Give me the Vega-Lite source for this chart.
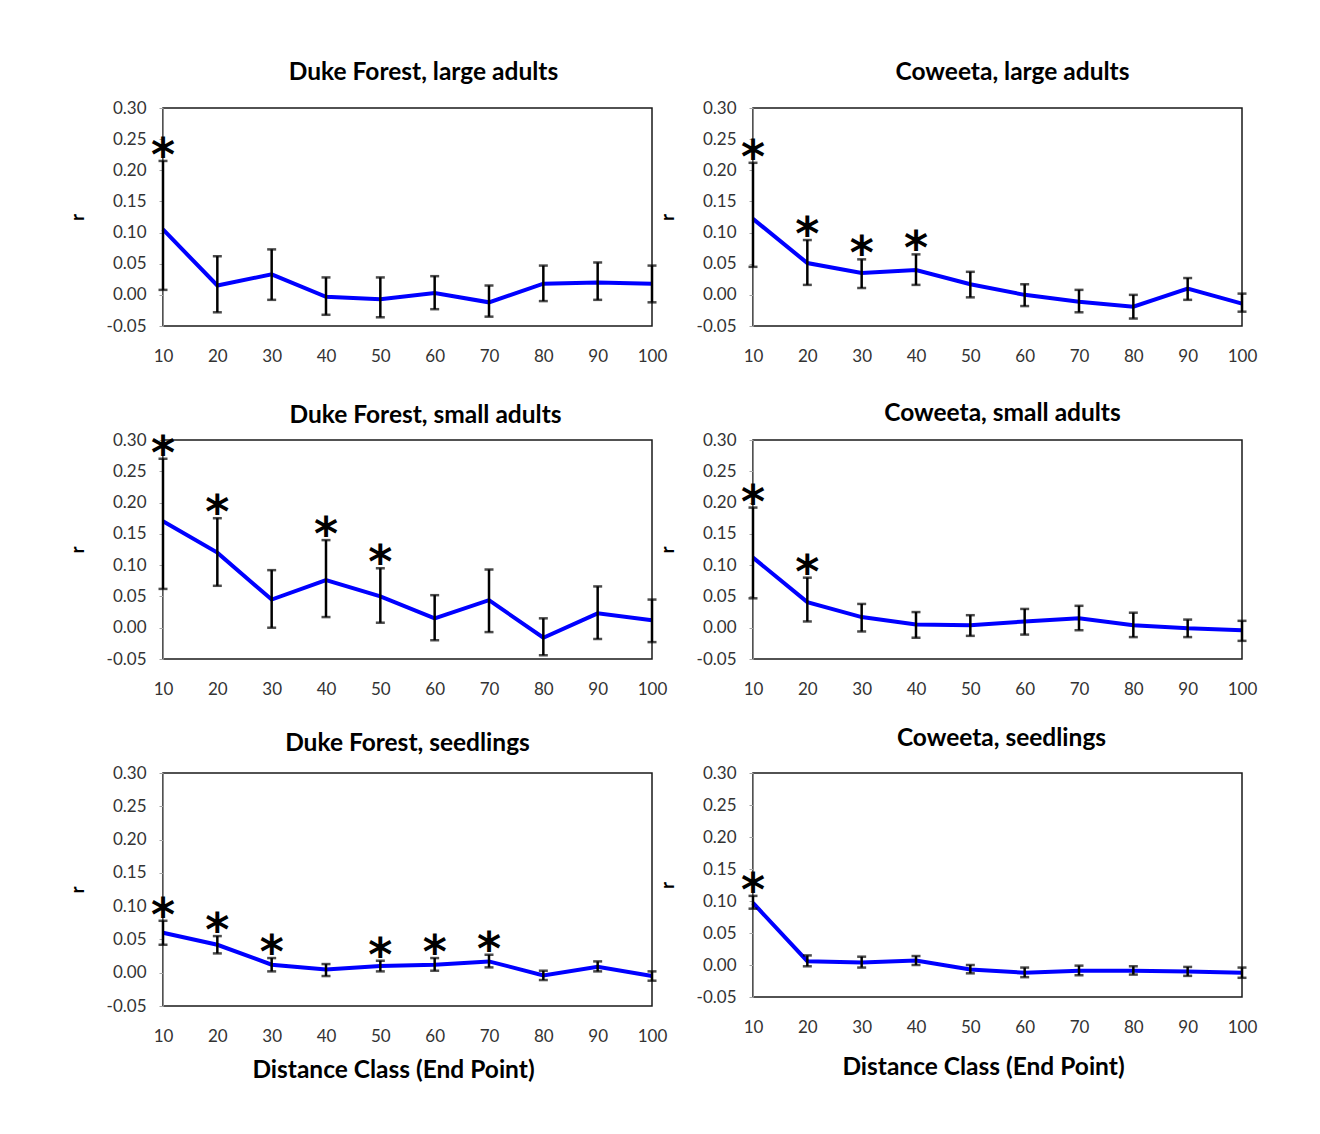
{
  "$schema": "https://vega.github.io/schema/vega-lite/v6.json",
  "background": "white",
  "padding": {"left": 67, "top": 58, "right": 10, "bottom": 10},
  "datasets": {
    "corr": [
      {"panel": "DL", "d": 10, "r": 0.105, "lo": 0.008, "hi": 0.215, "sig": true},
      {"panel": "DL", "d": 20, "r": 0.015, "lo": -0.028, "hi": 0.062, "sig": false},
      {"panel": "DL", "d": 30, "r": 0.033, "lo": -0.008, "hi": 0.073, "sig": false},
      {"panel": "DL", "d": 40, "r": -0.003, "lo": -0.032, "hi": 0.028, "sig": false},
      {"panel": "DL", "d": 50, "r": -0.007, "lo": -0.036, "hi": 0.028, "sig": false},
      {"panel": "DL", "d": 60, "r": 0.003, "lo": -0.023, "hi": 0.030, "sig": false},
      {"panel": "DL", "d": 70, "r": -0.012, "lo": -0.035, "hi": 0.015, "sig": false},
      {"panel": "DL", "d": 80, "r": 0.018, "lo": -0.010, "hi": 0.047, "sig": false},
      {"panel": "DL", "d": 90, "r": 0.020, "lo": -0.008, "hi": 0.052, "sig": false},
      {"panel": "DL", "d": 100, "r": 0.018, "lo": -0.012, "hi": 0.047, "sig": false},
      {"panel": "CL", "d": 10, "r": 0.122, "lo": 0.045, "hi": 0.212, "sig": true},
      {"panel": "CL", "d": 20, "r": 0.051, "lo": 0.016, "hi": 0.088, "sig": true},
      {"panel": "CL", "d": 30, "r": 0.035, "lo": 0.011, "hi": 0.057, "sig": true},
      {"panel": "CL", "d": 40, "r": 0.040, "lo": 0.016, "hi": 0.065, "sig": true},
      {"panel": "CL", "d": 50, "r": 0.017, "lo": -0.004, "hi": 0.037, "sig": false},
      {"panel": "CL", "d": 60, "r": 0.000, "lo": -0.018, "hi": 0.017, "sig": false},
      {"panel": "CL", "d": 70, "r": -0.011, "lo": -0.028, "hi": 0.008, "sig": false},
      {"panel": "CL", "d": 80, "r": -0.019, "lo": -0.038, "hi": 0.000, "sig": false},
      {"panel": "CL", "d": 90, "r": 0.010, "lo": -0.008, "hi": 0.027, "sig": false},
      {"panel": "CL", "d": 100, "r": -0.014, "lo": -0.027, "hi": 0.002, "sig": false},
      {"panel": "DS", "d": 10, "r": 0.170, "lo": 0.062, "hi": 0.270, "sig": true},
      {"panel": "DS", "d": 20, "r": 0.120, "lo": 0.067, "hi": 0.175, "sig": true},
      {"panel": "DS", "d": 30, "r": 0.045, "lo": 0.000, "hi": 0.092, "sig": false},
      {"panel": "DS", "d": 40, "r": 0.076, "lo": 0.017, "hi": 0.140, "sig": true},
      {"panel": "DS", "d": 50, "r": 0.050, "lo": 0.008, "hi": 0.095, "sig": true},
      {"panel": "DS", "d": 60, "r": 0.015, "lo": -0.020, "hi": 0.052, "sig": false},
      {"panel": "DS", "d": 70, "r": 0.044, "lo": -0.007, "hi": 0.093, "sig": false},
      {"panel": "DS", "d": 80, "r": -0.016, "lo": -0.044, "hi": 0.015, "sig": false},
      {"panel": "DS", "d": 90, "r": 0.023, "lo": -0.018, "hi": 0.066, "sig": false},
      {"panel": "DS", "d": 100, "r": 0.012, "lo": -0.023, "hi": 0.045, "sig": false},
      {"panel": "CS", "d": 10, "r": 0.112, "lo": 0.047, "hi": 0.192, "sig": true},
      {"panel": "CS", "d": 20, "r": 0.041, "lo": 0.010, "hi": 0.080, "sig": true},
      {"panel": "CS", "d": 30, "r": 0.017, "lo": -0.006, "hi": 0.038, "sig": false},
      {"panel": "CS", "d": 40, "r": 0.005, "lo": -0.016, "hi": 0.025, "sig": false},
      {"panel": "CS", "d": 50, "r": 0.004, "lo": -0.013, "hi": 0.020, "sig": false},
      {"panel": "CS", "d": 60, "r": 0.010, "lo": -0.011, "hi": 0.030, "sig": false},
      {"panel": "CS", "d": 70, "r": 0.015, "lo": -0.004, "hi": 0.035, "sig": false},
      {"panel": "CS", "d": 80, "r": 0.004, "lo": -0.015, "hi": 0.024, "sig": false},
      {"panel": "CS", "d": 90, "r": -0.001, "lo": -0.015, "hi": 0.013, "sig": false},
      {"panel": "CS", "d": 100, "r": -0.004, "lo": -0.021, "hi": 0.011, "sig": false},
      {"panel": "DD", "d": 10, "r": 0.060, "lo": 0.042, "hi": 0.078, "sig": true},
      {"panel": "DD", "d": 20, "r": 0.042, "lo": 0.029, "hi": 0.055, "sig": true},
      {"panel": "DD", "d": 30, "r": 0.012, "lo": 0.002, "hi": 0.022, "sig": true},
      {"panel": "DD", "d": 40, "r": 0.005, "lo": -0.005, "hi": 0.013, "sig": false},
      {"panel": "DD", "d": 50, "r": 0.010, "lo": 0.002, "hi": 0.018, "sig": true},
      {"panel": "DD", "d": 60, "r": 0.012, "lo": 0.003, "hi": 0.022, "sig": true},
      {"panel": "DD", "d": 70, "r": 0.017, "lo": 0.008, "hi": 0.027, "sig": true},
      {"panel": "DD", "d": 80, "r": -0.004, "lo": -0.011, "hi": 0.003, "sig": false},
      {"panel": "DD", "d": 90, "r": 0.009, "lo": 0.002, "hi": 0.017, "sig": false},
      {"panel": "DD", "d": 100, "r": -0.005, "lo": -0.012, "hi": 0.002, "sig": false},
      {"panel": "CD", "d": 10, "r": 0.097, "lo": 0.088, "hi": 0.108, "sig": true},
      {"panel": "CD", "d": 20, "r": 0.006, "lo": -0.002, "hi": 0.015, "sig": false},
      {"panel": "CD", "d": 30, "r": 0.004, "lo": -0.004, "hi": 0.013, "sig": false},
      {"panel": "CD", "d": 40, "r": 0.007, "lo": 0.000, "hi": 0.014, "sig": false},
      {"panel": "CD", "d": 50, "r": -0.007, "lo": -0.013, "hi": 0.000, "sig": false},
      {"panel": "CD", "d": 60, "r": -0.012, "lo": -0.019, "hi": -0.004, "sig": false},
      {"panel": "CD", "d": 70, "r": -0.009, "lo": -0.016, "hi": -0.001, "sig": false},
      {"panel": "CD", "d": 80, "r": -0.009, "lo": -0.015, "hi": -0.002, "sig": false},
      {"panel": "CD", "d": 90, "r": -0.010, "lo": -0.017, "hi": -0.003, "sig": false},
      {"panel": "CD", "d": 100, "r": -0.012, "lo": -0.020, "hi": -0.004, "sig": false}
    ]
  },
  "data": {"name": "corr"},
  "bounds": "flush",
  "columns": 2,
  "spacing": {"row": 114, "column": 101},
  "concat": [
    {
      "width": 489, "height": 218,
      "title": {"text": "Duke Forest, large adults", "dx": 16, "offset": 14},
      "transform": [{"filter": "datum.panel === 'DL'"}],
      "encoding": {"x": {"field": "d", "type": "quantitative", "title": null, "scale": {"domain": [10, 100], "nice": false, "zero": false}, "axis": {"values": [10, 20, 30, 40, 50, 60, 70, 80, 90, 100], "tickCount": 20}}},
      "layer": [
        {"mark": {"type": "rule", "color": "#a6a6a6", "strokeWidth": 1}, "encoding": {"y": {"datum": 0, "type": "quantitative", "title": "r", "scale": {"domain": [-0.05, 0.3], "nice": false, "zero": false}, "axis": {"values": [-0.05, 0, 0.05, 0.1, 0.15, 0.2, 0.25, 0.3], "tickCount": 20}}}},
        {"mark": {"type": "line", "color": "#0000ff", "strokeWidth": 4}, "encoding": {"y": {"field": "r", "type": "quantitative", "title": "r"}}},
        {"mark": {"type": "errorbar", "ticks": true, "color": "black", "thickness": 2.5, "size": 9}, "encoding": {"y": {"field": "lo", "type": "quantitative", "title": "r"}, "y2": {"field": "hi"}}},
        {"transform": [{"filter": "datum.sig"}], "mark": {"type": "text", "text": "*", "font": "DejaVu Sans", "fontWeight": "bold", "fontSize": 46, "baseline": "alphabetic", "dy": 10}, "encoding": {"y": {"field": "hi", "type": "quantitative", "title": "r"}}}
      ]
    },
    {
      "width": 489, "height": 218,
      "title": {"text": "Coweeta, large adults", "dx": 15, "offset": 14},
      "transform": [{"filter": "datum.panel === 'CL'"}],
      "encoding": {"x": {"field": "d", "type": "quantitative", "title": null, "scale": {"domain": [10, 100], "nice": false, "zero": false}, "axis": {"values": [10, 20, 30, 40, 50, 60, 70, 80, 90, 100], "tickCount": 20}}},
      "layer": [
        {"mark": {"type": "rule", "color": "#a6a6a6", "strokeWidth": 1}, "encoding": {"y": {"datum": 0, "type": "quantitative", "title": "r", "scale": {"domain": [-0.05, 0.3], "nice": false, "zero": false}, "axis": {"values": [-0.05, 0, 0.05, 0.1, 0.15, 0.2, 0.25, 0.3], "tickCount": 20}}}},
        {"mark": {"type": "line", "color": "#0000ff", "strokeWidth": 4}, "encoding": {"y": {"field": "r", "type": "quantitative", "title": "r"}}},
        {"mark": {"type": "errorbar", "ticks": true, "color": "black", "thickness": 2.5, "size": 9}, "encoding": {"y": {"field": "lo", "type": "quantitative", "title": "r"}, "y2": {"field": "hi"}}},
        {"transform": [{"filter": "datum.sig"}], "mark": {"type": "text", "text": "*", "font": "DejaVu Sans", "fontWeight": "bold", "fontSize": 46, "baseline": "alphabetic", "dy": 10}, "encoding": {"y": {"field": "hi", "type": "quantitative", "title": "r"}}}
      ]
    },
    {
      "width": 489, "height": 219,
      "title": {"text": "Duke Forest, small adults", "dx": 18, "offset": 3},
      "transform": [{"filter": "datum.panel === 'DS'"}],
      "encoding": {"x": {"field": "d", "type": "quantitative", "title": null, "scale": {"domain": [10, 100], "nice": false, "zero": false}, "axis": {"values": [10, 20, 30, 40, 50, 60, 70, 80, 90, 100], "tickCount": 20}}},
      "layer": [
        {"mark": {"type": "rule", "color": "#a6a6a6", "strokeWidth": 1}, "encoding": {"y": {"datum": 0, "type": "quantitative", "title": "r", "scale": {"domain": [-0.05, 0.3], "nice": false, "zero": false}, "axis": {"values": [-0.05, 0, 0.05, 0.1, 0.15, 0.2, 0.25, 0.3], "tickCount": 20}}}},
        {"mark": {"type": "line", "color": "#0000ff", "strokeWidth": 4}, "encoding": {"y": {"field": "r", "type": "quantitative", "title": "r"}}},
        {"mark": {"type": "errorbar", "ticks": true, "color": "black", "thickness": 2.5, "size": 9}, "encoding": {"y": {"field": "lo", "type": "quantitative", "title": "r"}, "y2": {"field": "hi"}}},
        {"transform": [{"filter": "datum.sig"}], "mark": {"type": "text", "text": "*", "font": "DejaVu Sans", "fontWeight": "bold", "fontSize": 46, "baseline": "alphabetic", "dy": 10}, "encoding": {"y": {"field": "hi", "type": "quantitative", "title": "r"}}}
      ]
    },
    {
      "width": 489, "height": 219,
      "title": {"text": "Coweeta, small adults", "dx": 5, "offset": 5},
      "transform": [{"filter": "datum.panel === 'CS'"}],
      "encoding": {"x": {"field": "d", "type": "quantitative", "title": null, "scale": {"domain": [10, 100], "nice": false, "zero": false}, "axis": {"values": [10, 20, 30, 40, 50, 60, 70, 80, 90, 100], "tickCount": 20}}},
      "layer": [
        {"mark": {"type": "rule", "color": "#a6a6a6", "strokeWidth": 1}, "encoding": {"y": {"datum": 0, "type": "quantitative", "title": "r", "scale": {"domain": [-0.05, 0.3], "nice": false, "zero": false}, "axis": {"values": [-0.05, 0, 0.05, 0.1, 0.15, 0.2, 0.25, 0.3], "tickCount": 20}}}},
        {"mark": {"type": "line", "color": "#0000ff", "strokeWidth": 4}, "encoding": {"y": {"field": "r", "type": "quantitative", "title": "r"}}},
        {"mark": {"type": "errorbar", "ticks": true, "color": "black", "thickness": 2.5, "size": 9}, "encoding": {"y": {"field": "lo", "type": "quantitative", "title": "r"}, "y2": {"field": "hi"}}},
        {"transform": [{"filter": "datum.sig"}], "mark": {"type": "text", "text": "*", "font": "DejaVu Sans", "fontWeight": "bold", "fontSize": 46, "baseline": "alphabetic", "dy": 10}, "encoding": {"y": {"field": "hi", "type": "quantitative", "title": "r"}}}
      ]
    },
    {
      "width": 489, "height": 233,
      "title": {"text": "Duke Forest, seedlings", "dx": 0, "offset": 8},
      "transform": [{"filter": "datum.panel === 'DD'"}],
      "encoding": {"x": {"field": "d", "type": "quantitative", "title": "Distance Class (End Point)", "scale": {"domain": [10, 100], "nice": false, "zero": false}, "axis": {"values": [10, 20, 30, 40, 50, 60, 70, 80, 90, 100], "tickCount": 20}}},
      "layer": [
        {"mark": {"type": "rule", "color": "#a6a6a6", "strokeWidth": 1}, "encoding": {"y": {"datum": 0, "type": "quantitative", "title": "r", "scale": {"domain": [-0.05, 0.3], "nice": false, "zero": false}, "axis": {"values": [-0.05, 0, 0.05, 0.1, 0.15, 0.2, 0.25, 0.3], "tickCount": 20}}}},
        {"mark": {"type": "line", "color": "#0000ff", "strokeWidth": 4}, "encoding": {"y": {"field": "r", "type": "quantitative", "title": "r"}}},
        {"mark": {"type": "errorbar", "ticks": true, "color": "black", "thickness": 2.5, "size": 9}, "encoding": {"y": {"field": "lo", "type": "quantitative", "title": "r"}, "y2": {"field": "hi"}}},
        {"transform": [{"filter": "datum.sig"}], "mark": {"type": "text", "text": "*", "font": "DejaVu Sans", "fontWeight": "bold", "fontSize": 46, "baseline": "alphabetic", "dy": 10}, "encoding": {"y": {"field": "hi", "type": "quantitative", "title": "r"}}}
      ]
    },
    {
      "width": 489, "height": 224,
      "title": {"text": "Coweeta, seedlings", "dx": 4, "offset": 13},
      "transform": [{"filter": "datum.panel === 'CD'"}],
      "encoding": {"x": {"field": "d", "type": "quantitative", "title": "Distance Class (End Point)", "scale": {"domain": [10, 100], "nice": false, "zero": false}, "axis": {"values": [10, 20, 30, 40, 50, 60, 70, 80, 90, 100], "tickCount": 20, "titlePadding": 20}}},
      "layer": [
        {"mark": {"type": "rule", "color": "#a6a6a6", "strokeWidth": 1}, "encoding": {"y": {"datum": 0, "type": "quantitative", "title": "r", "scale": {"domain": [-0.05, 0.3], "nice": false, "zero": false}, "axis": {"values": [-0.05, 0, 0.05, 0.1, 0.15, 0.2, 0.25, 0.3], "tickCount": 20}}}},
        {"mark": {"type": "line", "color": "#0000ff", "strokeWidth": 4}, "encoding": {"y": {"field": "r", "type": "quantitative", "title": "r"}}},
        {"mark": {"type": "errorbar", "ticks": true, "color": "black", "thickness": 2.5, "size": 9}, "encoding": {"y": {"field": "lo", "type": "quantitative", "title": "r"}, "y2": {"field": "hi"}}},
        {"transform": [{"filter": "datum.sig"}], "mark": {"type": "text", "text": "*", "font": "DejaVu Sans", "fontWeight": "bold", "fontSize": 46, "baseline": "alphabetic", "dy": 10}, "encoding": {"y": {"field": "hi", "type": "quantitative", "title": "r"}}}
      ]
    }
  ],
  "config": {
    "font": "Lato",
    "view": {"stroke": "#1a1a1a", "strokeWidth": 1.5},
    "title": {"font": "Lato", "fontSize": 24.5, "fontWeight": "bold", "color": "black", "anchor": "middle", "frame": "group"},
    "axis": {"grid": false, "labelOverlap": false, "labelFont": "Lato", "labelFontSize": 17, "labelColor": "#333333", "titleFont": "Lato", "titleFontWeight": "bold", "titleColor": "black"},
    "axisX": {"ticks": false, "domain": false, "labelPadding": 22, "labelFlush": false, "titleFontSize": 24.5, "titlePadding": 14, "titleX": 230},
    "axisY": {"labelExpr": "replace(format(datum.value, '.2f'), '−', '-')", "ticks": true, "tickSize": 4, "tickColor": "#a6a6a6", "domain": true, "domainColor": "#8c8c8c", "labelPadding": 13, "titleFontSize": 19, "titlePadding": 19, "labelFlush": false}
  }
}
